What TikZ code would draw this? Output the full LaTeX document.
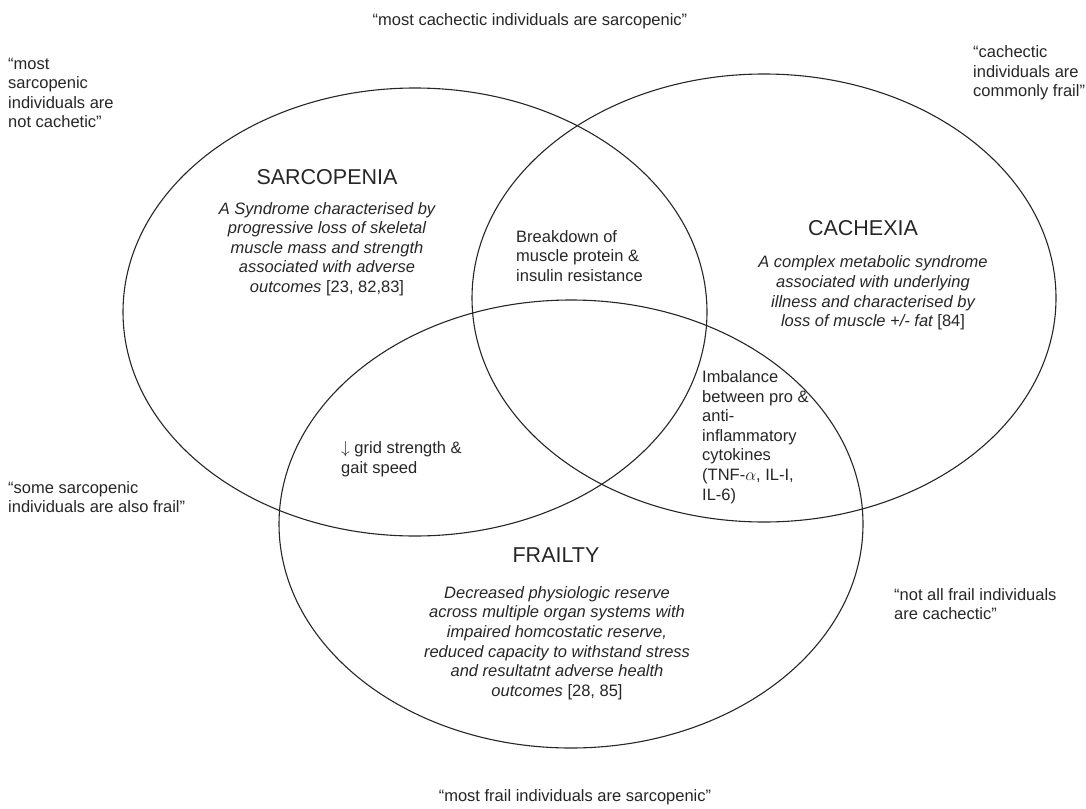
\documentclass[tikz,border=0pt]{standalone}
\usepackage{fontspec}
\setmainfont{Liberation Sans}
\begin{document}
\begin{tikzpicture}[x=1pt,y=-1pt,
  set/.style={draw=black!85,line width=1.1pt},
  body/.style={inner sep=0pt,font=\fontsize{16.5}{19.6}\selectfont,text=black!85},
  title/.style={inner sep=0pt,font=\fontsize{21.5}{24}\selectfont,text=black!85},
  desc/.style={body,align=center,font=\fontsize{16.5}{19.6}\selectfont\itshape},
  note/.style={body,align=left,anchor=west}]
\useasboundingbox (0,0) rectangle (1086,808);

% the three sets
\coordinate (sarc) at (415,312);
\coordinate (cach) at (764,298);
\coordinate (frail) at (571,524);
\draw[set] (sarc) ellipse [x radius=292pt, y radius=224pt];
\draw[set] (cach) ellipse [x radius=292pt, y radius=224pt];
\draw[set] (frail) ellipse [x radius=292pt, y radius=224pt];

% set titles and definitions
\node[title] (tsarc) at (327,177) {SARCOPENIA};
\node[desc] (dsarc) at (327,249) {A Syndrome characterised by\\progressive loss of skeletal\\muscle mass and strength\\associated with adverse\\outcomes \upshape[23, 82,83]};
\node[title] (tcach) at (863,228) {CACHEXIA};
\node[desc] (dcach) at (873,293) {A complex metabolic syndrome\\associated with underlying\\illness and characterised by\\loss of muscle +/- fat \upshape[84]};
\node[title] (tfrail) at (556,555) {FRAILTY};
\node[desc] (dfrail) at (557,643) {Decreased physiologic reserve\\across multiple organ systems with\\impaired homcostatic reserve,\\reduced capacity to withstand stress\\and resultatnt adverse health\\outcomes \upshape[28, 85]};

% overlaps
\node[note] (sc) at (516,256) {Breakdown of\\muscle protein \&\\insulin resistance};
\node[note] (cf) at (702,437) {Imbalance\\between pro \&\\anti-\\inflammatory\\cytokines\\(TNF-$\alpha$, IL-I,\\IL-6)};
\node[note] (sf) at (341,459) {$\downarrow$ grid strength \&\\gait speed};

% remarks around the diagram
\node[body] (qtop) at (530,21) {“most cachectic individuals are sarcopenic”};
\node[body] (qbot) at (575,797) {“most frail individuals are sarcopenic”};
\node[note] (qtl) at (8,93) {“most\\sarcopenic\\individuals are\\not cachetic”};
\node[note] (qtr) at (973,73) {“cachectic\\individuals are\\commonly frail”};
\node[note] (qml) at (8,497) {“some sarcopenic\\individuals are also frail”};
\node[note] (qmr) at (894,604) {“not all frail individuals\\are cachectic”};
\end{tikzpicture}
\end{document}
